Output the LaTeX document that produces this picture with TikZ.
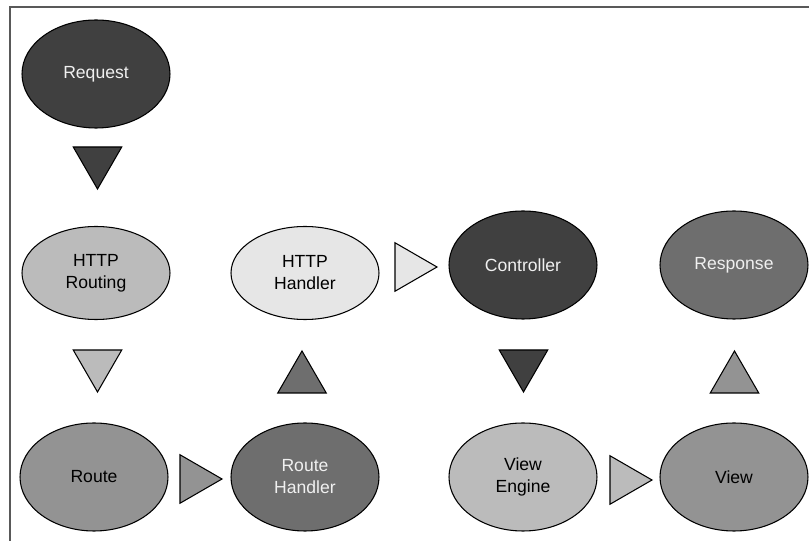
\documentclass[tikz,border=0pt]{standalone}
\usepackage{fontspec}
\setmainfont{Liberation Sans}
\usetikzlibrary{positioning,shapes.geometric}
\definecolor{grisA}{HTML}{404040}
\definecolor{grisB}{HTML}{6E6E6E}
\definecolor{grisC}{HTML}{939393}
\definecolor{grisD}{HTML}{BBBBBB}
\definecolor{grisE}{HTML}{E6E6E6}
\tikzset{
  nodo/.style={ellipse, draw, line width=0.6pt, minimum width=2.96cm, minimum height=2.16cm, inner sep=0pt, align=center, font=\fontsize{10}{12.5}\selectfont},
  nodoBajo/.style={nodo, minimum height=1.86cm},
  textoClaro/.style={text=white!94!black},
  flecha/.style={regular polygon, regular polygon sides=3, draw, line width=0.6pt, minimum size=1.12cm, inner sep=0pt},
  flechaAbajo/.style={flecha, shape border rotate=180},
  flechaArriba/.style={flecha},
  flechaDer/.style={flecha, shape border rotate=-90},
}

\begin{document}
\begin{tikzpicture}
  \useasboundingbox (0,0) rectangle (16.18,10.82);
  \draw[line width=0.85pt, gray!70!black] (0.2,0) -- (0.2,10.68) -- (16.18,10.68);

  % etapas
  \node[nodo, fill=grisA, textoClaro] (request) at (1.92,9.34) {Request};
  \node[nodoBajo, fill=grisD] (routing) at (1.92,5.36) {HTTP\\Routing};
  \node[nodoBajo, fill=grisE] (handler) at (6.10,5.36) {HTTP\\Handler};
  \node[nodo, fill=grisA, textoClaro] (controller) at (10.46,5.52) {Controller};
  \node[nodo, fill=grisB, textoClaro] (response) at (14.68,5.52) {Response};
  \node[nodo, fill=grisC] (route) at (1.88,1.28) {Route};
  \node[nodo, fill=grisB, textoClaro] (routehandler) at (6.10,1.28) {Route\\Handler};
  \node[nodo, fill=grisD] (viewengine) at (10.46,1.28) {View\\Engine};
  \node[nodo, fill=grisC] (view) at (14.68,1.28) {View};

  % flechas triangulares
  \node[flechaAbajo, fill=grisA] (f1) at (1.95,7.60) {};
  \node[flechaAbajo, fill=grisD] (f2) at (1.95,3.54) {};
  \node[flechaDer, fill=grisC] (f3) at (3.88,1.24) {};
  \node[flechaArriba, fill=grisB] (f4) at (6.04,3.24) {};
  \node[flechaDer, fill=grisE] (f5) at (8.18,5.48) {};
  \node[flechaAbajo, fill=grisA] (f6) at (10.47,3.54) {};
  \node[flechaDer, fill=grisD] (f7) at (12.48,1.22) {};
  \node[flechaArriba, fill=grisC] (f8) at (14.69,3.24) {};
\end{tikzpicture}
\end{document}
